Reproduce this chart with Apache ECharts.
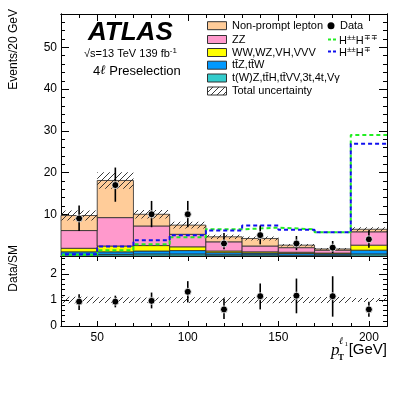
<!DOCTYPE html>
<html><head><meta charset="utf-8">
<script src="https://cdn.jsdelivr.net/npm/echarts@6/dist/echarts.min.js"></script>
<style>html,body{margin:0;padding:0;background:#fff}#c{width:407px;height:395px}</style>
</head><body><div id="c"></div>
<script>
// ---- data ----
const binLo = [30, 50, 70, 90, 110, 130, 150, 170, 190];
const binHi = [50, 70, 90, 110, 130, 150, 170, 190, 210];
const binCenters = [40, 60, 80, 100, 120, 140, 160, 180, 200];
const tWZ  = [0.4, 0.4, 0.5, 0.5, 0.3, 0.3, 0.2, 0.2, 0.5];
const ttZ  = [0.6, 0.6, 0.7, 0.8, 0.5, 0.4, 0.4, 0.3, 0.9];
const VV   = [0.85, 1.4, 1.3, 0.9, 0.4, 0.3, 0.3, 0.2, 1.2];
const ZZ   = [4.25, 6.8, 4.7, 3.0, 2.2, 1.4, 1.1, 0.7, 3.2];
const nonPrompt = [3.6, 8.9, 2.8, 2.2, 1.2, 1.8, 0.6, 0.3, 0.6];
const totUnc = [1.2, 2.0, 1.0, 0.8, 0.5, 0.5, 0.3, 0.2, 0.5];
const dataVals = [9, 17, 10, 10, 3, 5, 3, 2, 4];
const dataHi = [12.1, 21.2, 13.2, 13.2, 5.5, 7.3, 4.8, 3.6, 6.2];
const dataLo = [6.0, 13.0, 6.9, 6.9, 1.6, 2.8, 1.4, 0.7, 2.0];
const sigHppHmm = [0.3, 1.4, 2.8, 4.5, 6.4, 6.8, 6.4, 5.7, 29.0];
const sigHppHm  = [0.4, 2.3, 3.8, 5.0, 6.1, 7.3, 6.3, 5.7, 26.9];
const ratioVals = [0.94, 0.94, 0.97, 1.32, 0.64, 1.15, 1.17, 1.15, 0.64];
const ratioHi   = [1.22, 1.17, 1.29, 1.73, 1.06, 1.64, 1.83, 1.92, 0.94];
const ratioLo   = [0.62, 0.72, 0.68, 0.91, 0.27, 0.64, 0.49, 0.36, 0.36];
const xMajorTicks = [50, 100, 150, 200];
const xTickLabels = [50, 100, 150, 200];
const yMainMajor = [0, 10, 20, 30, 40, 50];
const yMainLabels = [10, 20, 30, 40, 50];
const yRatioMajor = [0, 1, 2];
const yRatioLabels = [0, 1, 2];
const legendNames = ['Non-prompt lepton', 'ZZ', 'WW,WZ,VH,VVV', 't\u0074\u0304Z,t\u0074\u0304W', 't(W)Z,t\u0074\u0304H,t\u0074\u0304VV,3t,4t,V\u03b3', 'Total uncertainty'];

// ---- style ----
const FONT = '"Liberation Sans", Arial, sans-serif';
const colors = { tWZ: '#33CCCC', ttZ: '#0099FF', VV: '#FFFF00', ZZ: '#FF99CC', NP: '#FFCC99' };
const X0 = 30, X1 = 210;

function hatchCanvas() {
  const c = document.createElement('canvas'); c.width = 6; c.height = 6;
  const g = c.getContext('2d'); g.strokeStyle = '#222'; g.lineWidth = 0.9;
  g.beginPath();
  g.moveTo(0, 6); g.lineTo(6, 0);
  g.moveTo(-1, 1); g.lineTo(1, -1);
  g.moveTo(5, 7); g.lineTo(7, 5);
  g.stroke();
  return c;
}
const hatchImg = hatchCanvas();
const hatchFill = { image: hatchImg, repeat: 'repeat' };

// minor tick lists
const xMinor = []; for (let v = X0; v <= X1; v += 10) xMinor.push(v);
const yMainMinor = []; for (let v = 2; v < 58; v += 2) yMainMinor.push(v);
const yRatioMinor = []; for (let v = 0.2; v < 2.7; v += 0.2) yRatioMinor.push(+v.toFixed(1));

function xAx(grid, pos, ticks, len, labels) {
  return {
    type: 'value', gridIndex: grid, position: pos, min: X0, max: X1,
    axisLine: { show: true, onZero: false, lineStyle: { color: '#000', width: 1 } },
    axisTick: { show: true, inside: true, length: len, customValues: ticks, lineStyle: { color: '#000', width: 1 } },
    axisLabel: labels ? { show: true, customValues: labels, color: '#000', fontFamily: FONT, fontSize: 12, margin: 6 } : { show: false },
    splitLine: { show: false }
  };
}
function yAx(grid, pos, min, max, ticks, len, labels) {
  return {
    type: 'value', gridIndex: grid, position: pos, min: min, max: max,
    axisLine: { show: true, onZero: false, lineStyle: { color: '#000', width: 1 } },
    axisTick: { show: true, inside: true, length: len, customValues: ticks, lineStyle: { color: '#000', width: 1 } },
    axisLabel: labels ? { show: true, customValues: labels, color: '#000', fontFamily: FONT, fontSize: 12, margin: 4 } : { show: false },
    splitLine: { show: false }
  };
}

const xAxes = [
  xAx(0, 'bottom', xMajorTicks, 7, null),
  xAx(0, 'bottom', xMinor, 4, null),
  xAx(0, 'top', xMajorTicks, 7, null),
  xAx(0, 'top', xMinor, 4, null),
  xAx(1, 'bottom', xMajorTicks, 5, xTickLabels),
  xAx(1, 'bottom', xMinor, 3, null),
  xAx(1, 'top', xMajorTicks, 5, null),
  xAx(1, 'top', xMinor, 3, null)
];
const yAxes = [
  yAx(0, 'left', 0, 58, yMainMajor, 8, yMainLabels),
  yAx(0, 'left', 0, 58, yMainMinor, 4, null),
  yAx(0, 'right', 0, 58, yMainMajor, 8, null),
  yAx(0, 'right', 0, 58, yMainMinor, 4, null),
  yAx(1, 'left', 0, 2.7, yRatioMajor, 8, yRatioLabels),
  yAx(1, 'left', 0, 2.7, yRatioMinor, 4, null),
  yAx(1, 'right', 0, 2.7, yRatioMajor, 8, null),
  yAx(1, 'right', 0, 2.7, yRatioMinor, 4, null)
];

// stacked component rectangles
const comps = [
  { arr: tWZ, color: colors.tWZ },
  { arr: ttZ, color: colors.ttZ },
  { arr: VV, color: colors.VV },
  { arr: ZZ, color: colors.ZZ },
  { arr: nonPrompt, color: colors.NP }
];
const cum = binLo.map(() => 0);
const series = [];
function rectRender(fill, stroke) {
  return function (params, api) {
    const p0 = api.coord([api.value(0), api.value(3)]);
    const p1 = api.coord([api.value(1), api.value(2)]);
    return {
      type: 'rect',
      shape: { x: p0[0], y: p0[1], width: p1[0] - p0[0], height: p1[1] - p0[1] },
      style: stroke ? { fill: fill, stroke: stroke, lineWidth: 0.8 } : { fill: fill }
    };
  };
}
comps.forEach((c, ci) => {
  const d = binLo.map((lo, i) => {
    const base = cum[i]; const top = base + c.arr[i]; cum[i] = top;
    return [lo, binHi[i], base, top];
  });
  series.push({
    type: 'custom', xAxisIndex: 0, yAxisIndex: 0, z: 1 + ci * 0.01, silent: true,
    encode: { x: [0, 1], y: [2, 3] }, data: d, renderItem: rectRender(c.color, '#2a2a2a')
  });
});
const totals = cum.slice();
// uncertainty band
series.push({
  type: 'custom', xAxisIndex: 0, yAxisIndex: 0, z: 2, silent: true,
  encode: { x: [0, 1], y: [2, 3] },
  data: binLo.map((lo, i) => [lo, binHi[i], totals[i] - totUnc[i], totals[i] + totUnc[i]]),
  renderItem: rectRender(hatchFill, null)
});
// signal step lines
function stepData(arr) {
  const d = binLo.map((lo, i) => [lo, arr[i]]);
  d.push([binHi[binHi.length - 1], arr[arr.length - 1]]);
  return d;
}
series.push({
  type: 'line', xAxisIndex: 0, yAxisIndex: 0, z: 3, step: 'end', showSymbol: false, symbol: 'none', silent: true,
  data: stepData(sigHppHmm), lineStyle: { color: '#22EE22', width: 2, type: [4, 3] }
});
series.push({
  type: 'line', xAxisIndex: 0, yAxisIndex: 0, z: 3, step: 'end', showSymbol: false, symbol: 'none', silent: true,
  data: stepData(sigHppHm), lineStyle: { color: '#1010EE', width: 2, type: [4, 3], dashOffset: 3 }
});
// error bars
function errRender(params, api) {
  const a = api.coord([api.value(0), api.value(1)]);
  const b = api.coord([api.value(0), api.value(2)]);
  return { type: 'line', shape: { x1: a[0], y1: a[1], x2: b[0], y2: b[1] }, style: { stroke: '#000', lineWidth: 1.6 } };
}
series.push({
  type: 'custom', xAxisIndex: 0, yAxisIndex: 0, z: 4, silent: true, clip: true,
  encode: { x: 0, y: [1, 2] },
  data: binCenters.map((x, i) => [x, dataLo[i], dataHi[i]]), renderItem: errRender
});
series.push({
  type: 'scatter', xAxisIndex: 0, yAxisIndex: 0, z: 5, silent: true, symbol: 'circle', symbolSize: 7,
  itemStyle: { color: '#000', borderColor: '#fff', borderWidth: 0.8, opacity: 1 },
  data: binCenters.map((x, i) => [x, dataVals[i]])
});
// ratio panel
series.push({
  type: 'custom', xAxisIndex: 4, yAxisIndex: 4, z: 2, silent: true,
  encode: { x: [0, 1], y: [2, 3] },
  data: binLo.map((lo, i) => [lo, binHi[i], 1 - totUnc[i] / totals[i], 1 + totUnc[i] / totals[i]]),
  renderItem: rectRender(hatchFill, null)
});
series.push({
  type: 'custom', xAxisIndex: 4, yAxisIndex: 4, z: 4, silent: true, clip: true,
  encode: { x: 0, y: [1, 2] },
  data: binCenters.map((x, i) => [x, ratioLo[i], ratioHi[i]]), renderItem: errRender
});
series.push({
  type: 'scatter', xAxisIndex: 4, yAxisIndex: 4, z: 5, silent: true, symbol: 'circle', symbolSize: 7,
  itemStyle: { color: '#000', borderColor: '#fff', borderWidth: 0.8, opacity: 1 },
  data: binCenters.map((x, i) => [x, ratioVals[i]])
});

// ---- graphics: texts and legend ----
const g = [];
function txt(x, y, text, font, extra) {
  g.push(Object.assign({ type: 'text', x: x, y: y, z: 100, silent: true,
    style: Object.assign({ text: text, font: font, fill: '#000', verticalAlign: 'middle' }, extra || {}) }));
}
txt(88, 33, 'ATLAS', 'italic bold 26px ' + FONT);
g.push({ type: 'text', x: 84, y: 54, z: 100, silent: true, style: {
  text: '{n|\u221as=13 TeV 139 fb}{s|-1}', verticalAlign: 'middle',
  rich: { n: { font: '11px ' + FONT, fill: '#000' }, s: { font: '8px ' + FONT, fill: '#000', padding: [0, 0, 7, 0] } } } });
g.push({ type: 'text', x: 93, y: 71, z: 100, silent: true, style: {
  text: '{n|4}{l|\u2113}{n| Preselection}', verticalAlign: 'middle',
  rich: { n: { font: '13px ' + FONT, fill: '#000' }, l: { font: 'italic 13px "DejaVu Serif", serif', fill: '#000' } } } });
// y axis titles
g.push({ type: 'text', x: 14, y: 9, rotation: Math.PI / 2, z: 100, silent: true,
  style: { text: 'Events/20 GeV', font: '12px ' + FONT, fill: '#000', align: 'right', verticalAlign: 'middle' } });
g.push({ type: 'text', x: 14, y: 245, rotation: Math.PI / 2, z: 100, silent: true,
  style: { text: 'Data/SM', font: '12px ' + FONT, fill: '#000', align: 'right', verticalAlign: 'middle' } });
// x axis title
txt(331, 351, 'p', 'italic 17px "Liberation Serif", serif');
txt(339, 341, '\u2113', 'italic 10px "DejaVu Serif", serif');
txt(344.5, 344, '1', '7px "Liberation Serif", serif');
txt(338, 358, 'T', 'bold 9px "Liberation Serif", serif');
txt(387, 350, '[GeV]', '15px ' + FONT, { align: 'right' });

// legend
const legY = [25.7, 39.5, 52.5, 65.2, 78, 91];
const legFills = [colors.NP, colors.ZZ, colors.VV, colors.ttZ, colors.tWZ, hatchFill];
legY.forEach((y, i) => {
  g.push({ type: 'rect', z: 100, silent: true, shape: { x: 207.5, y: y - 4, width: 19, height: 8 },
    style: { fill: legFills[i], stroke: '#333', lineWidth: 1 } });
  txt(232, y, legendNames[i], '11px ' + FONT);
});
g.push({ type: 'circle', z: 100, silent: true, shape: { cx: 331, cy: 25.7, r: 3.5 }, style: { fill: '#000' } });
txt(340, 26, 'Data', '11px ' + FONT);
g.push({ type: 'line', z: 100, silent: true, shape: { x1: 328, y1: 39.5, x2: 338, y2: 39.5 },
  style: { stroke: '#22EE22', lineWidth: 2, lineDash: [3, 2] } });
g.push({ type: 'line', z: 100, silent: true, shape: { x1: 328, y1: 51.5, x2: 338, y2: 51.5 },
  style: { stroke: '#1010EE', lineWidth: 2, lineDash: [3, 2] } });
const hRich = { n: { font: '11px ' + FONT, fill: '#000' }, s: { font: '8px ' + FONT, fill: '#000', padding: [0, 0, 7, 0] } };
g.push({ type: 'text', x: 339, y: 41, z: 100, silent: true, style: { text: '{n|H}{s|\u00b1\u00b1}{n|H}{s|\u2213\u2213}', verticalAlign: 'middle', rich: hRich } });
g.push({ type: 'text', x: 339, y: 53, z: 100, silent: true, style: { text: '{n|H}{s|\u00b1\u00b1}{n|H}{s|\u2213}', verticalAlign: 'middle', rich: hRich } });

const chart = echarts.init(document.getElementById('c'), null, { renderer: 'canvas' });
chart.setOption({
  animation: false,
  backgroundColor: '#fff',
  grid: [
    { left: 61, top: 14, width: 326, height: 242, containLabel: false },
    { left: 61, top: 256, width: 326, height: 70, containLabel: false }
  ],
  xAxis: xAxes,
  yAxis: yAxes,
  series: series,
  graphic: g
});
</script></body></html>
